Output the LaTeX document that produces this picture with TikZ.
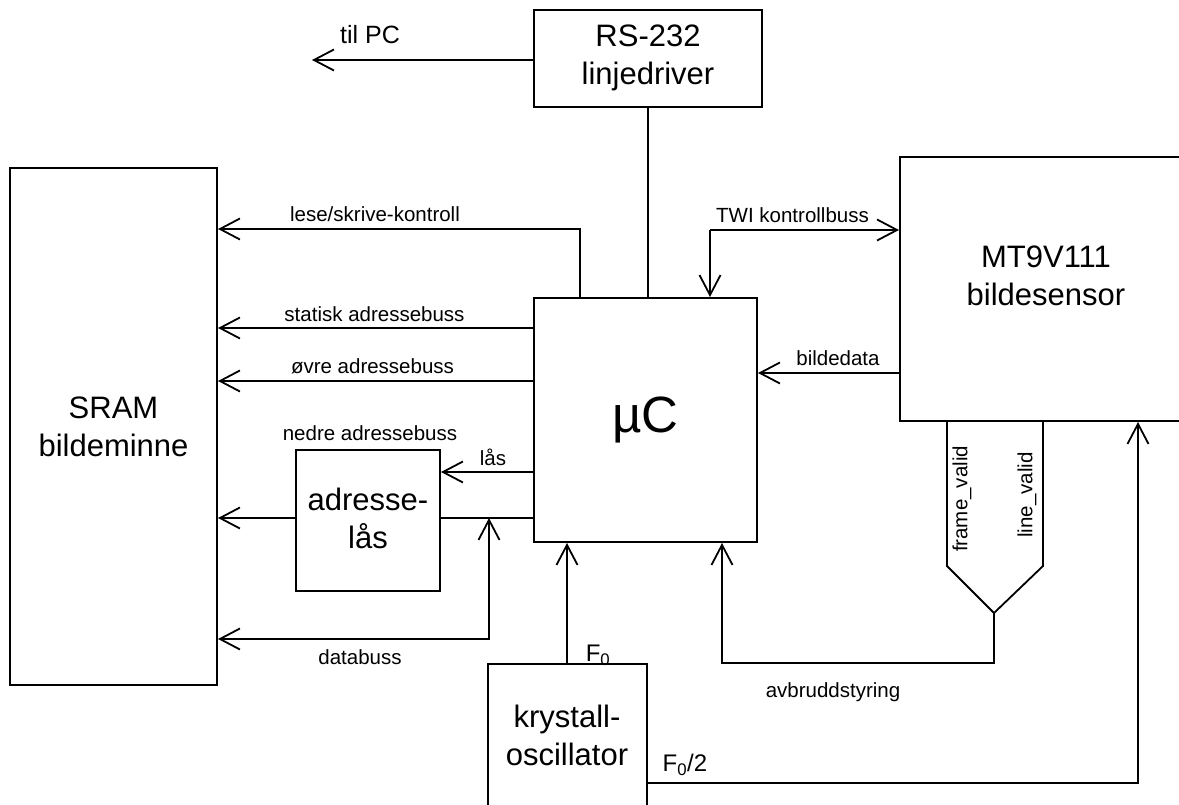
\documentclass[tikz,border=0pt]{standalone}
\usepackage{fontspec}
\setmainfont{Liberation Sans}
\usetikzlibrary{arrows.meta}

\tikzset{
  boks/.style={draw, line width=2pt, inner sep=0pt, fill=white},
  stor/.style={font=\fontsize{31}{38}\selectfont, align=center, inner sep=0pt},
  liten/.style={font=\fontsize{20.5}{24}\selectfont, inner sep=0pt},
  pil/.style={-{Straight Barb[length=20pt,width=21pt]}},
  dpil/.style={{Straight Barb[length=20pt,width=21pt]}-{Straight Barb[length=20pt,width=21pt]}},
}

\begin{document}
\begin{tikzpicture}[x=1pt, y=-1pt, line width=1.8pt, line join=miter]

  %% ════ canvas ════
  \useasboundingbox (0,0) rectangle (1179,805);

  %% ════ blocks ════
  \node[boks, minimum width=228, minimum height=97] (rs) at (648,58.5) {};
  \node[boks, minimum width=207, minimum height=517] (sram) at (113.5,426.5) {};
  \node[boks, minimum width=223, minimum height=244] (mcu) at (645.5,420) {};
  \node[boks, minimum width=144, minimum height=141] (latch) at (368,520.5) {};
  \node[boks, minimum width=300, minimum height=264] (sensor) at (1050,289) {};
  \node[boks, minimum width=159, minimum height=200, anchor=north] (osc) at (567,663) {};

  %% ════ block texts ════
  \node[stor] (rstxt) at (648,57.5) {RS-232\\linjedriver};
  \node[stor] (sramtxt) at (113.5,427) {SRAM\\bildeminne};
  \node[stor, font=\fontsize{51}{60}\selectfont] (mcutxt) at (645.5,420) {µC};
  \node[stor] (latchtxt) at (368,518) {adresse-\\lås};
  \node[stor] (sensortxt) at (1046,276) {MT9V111\\bildesensor};
  \node[stor] (osctxt) at (567,735) {krystall-\\oscillator};

  %% ════ free ends ════
  \coordinate (pc)   at (312,60);
  \coordinate (twi)  at (710,230);
  \coordinate (dbus) at (489,518);
  \coordinate (irq)  at (994,613);

  %% ════ connectors ════
  \draw[pil] (rs.west |- pc) -- (pc);
  \draw (rs.south) -- (mcu.north -| rs.south);
  \draw[pil] (mcu.north -| 580,0) |- (sram.east |- 0,229);
  \draw[pil] (mcu.west |- 0,328) -- (sram.east |- 0,328);
  \draw[pil] (mcu.west |- 0,381) -- (sram.east |- 0,381);
  \draw[pil] (mcu.west |- 0,472) -- (latch.east |- 0,472);
  \draw (mcu.west |- dbus) -- (latch.east |- dbus);
  \draw[pil] (latch.west |- dbus) -- (sram.east |- dbus);
  \draw[dpil] (dbus) |- (sram.east |- 0,639);
  \draw[pil] (twi) -- (sensor.west |- twi);
  \draw[pil] (twi) -- (mcu.north -| twi);
  \draw[pil] (sensor.west |- 0,373) -- (mcu.east |- 0,373);
  \draw (sensor.south -| 947,0) -- (947,566) -- (irq) -- (1043,566) -- (sensor.south -| 1043,0);
  \draw[pil] (irq) -- (irq |- 0,663) -| (mcu.south -| 722,0);
  \draw[pil] (osc.north) -- (mcu.south -| osc.north);
  \draw[pil] (osc.east |- 0,783) -| (sensor.south -| 1138,0);

  %% ════ labels ════
  \node[liten, font=\fontsize{25}{30}\selectfont] (pclbl) at (370,35) {til PC};
  \node[liten] (rwlbl) at (375,214) {lese/skrive-kontroll};
  \node[liten] (salbl) at (374.5,314) {statisk adressebuss};
  \node[liten] (oalbl) at (372.5,366) {øvre adressebuss};
  \node[liten] (nalbl) at (370,433) {nedre adressebuss};
  \node[liten] (laslbl) at (493,457) {lås};
  \node[liten] (dblbl) at (360,657) {databuss};
  \node[liten] (twilbl) at (792.5,215) {TWI kontrollbuss};
  \node[liten] (bdlbl) at (838,358) {bildedata};
  \node[liten] (irqlbl) at (833,692) {avbruddstyring};
  \node[liten, rotate=90] (fvlbl) at (962,499) {frame\_valid};
  \node[liten, rotate=90] (lvlbl) at (1027,495) {line\_valid};
  \node[liten, font=\fontsize{24}{28}\selectfont] (f0lbl) at (598,655) {F\textsubscript{0}};
  \node[liten, font=\fontsize{24}{28}\selectfont] (f2lbl) at (685,765) {F\textsubscript{0}/2};
\end{tikzpicture}
\end{document}
